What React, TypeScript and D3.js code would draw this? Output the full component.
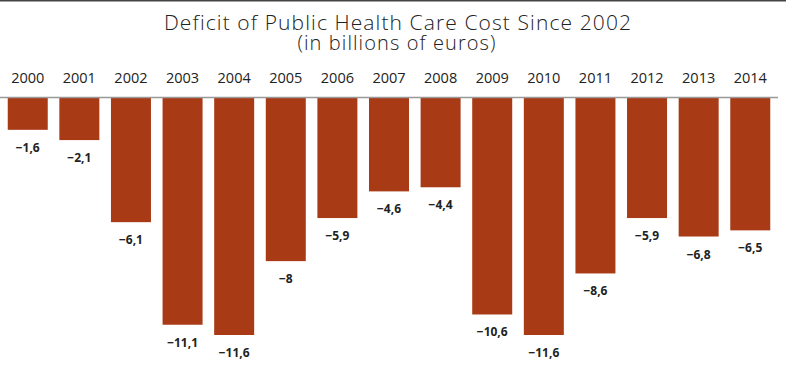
import React from 'react';
import * as d3 from 'd3';

const years = ['2000', '2001', '2002', '2003', '2004', '2005', '2006', '2007', '2008', '2009', '2010', '2011', '2012', '2013', '2014'];
const deficits = [-1.6, -2.1, -6.1, -11.1, -11.6, -8, -5.9, -4.6, -4.4, -10.6, -11.6, -8.6, -5.9, -6.8, -6.5];

const W = 786;
const H = 389;
const BAR = '#a83a16';
const FONT = '"Open Sans", Lato, sans-serif';

const fmt = (v: number) => '\u2212' + String(Math.abs(v)).replace('.', ',');

const App: React.FC = () => {
  const x = d3.scaleBand<string>().domain(years).range([0, 778]).paddingInner(0.225).paddingOuter(0.15);
  const y = d3.scaleLinear().domain([0, -11.6]).range([97, 335]);

  return (
    <svg width={W} height={H} style={{ display: 'block', position: 'absolute', left: 0, top: 0, background: '#fff' }}>
      <line x1={0} x2={W} y1={0.75} y2={0.75} stroke="#444" strokeWidth={1.5} />
      {/* two-line title kept in one text element */}
      <text textAnchor="middle" fontFamily={FONT} fontWeight={300} letterSpacing={1.1} fill="#222">
        <tspan x={398} y={30} fontSize={21}>Deficit of Public Health Care Cost Since 2002</tspan>
        <tspan x={397} y={50} fontSize={20}>(in billions of euros)</tspan>
      </text>
      {years.map((yr, i) => {
        const v = deficits[i];
        const bx = x(yr) as number;
        return (
          <g key={yr}>
            <text x={bx + x.bandwidth() / 2} y={83} textAnchor="middle" fontFamily={FONT} fontSize={14.5} fill="#222">
              {yr}
            </text>
            <rect x={bx} y={y(0)} width={x.bandwidth()} height={y(v) - y(0)} fill={BAR} />
            <text x={bx + x.bandwidth() / 2} y={y(v) + 22} textAnchor="middle" fontFamily={FONT} fontSize={12} fontWeight={700} fill="#222">
              {fmt(v)}
            </text>
          </g>
        );
      })}
      <line x1={0} x2={778} y1={97.5} y2={97.5} stroke="#999" strokeWidth={1.5} />
    </svg>
  );
};

export default App;
